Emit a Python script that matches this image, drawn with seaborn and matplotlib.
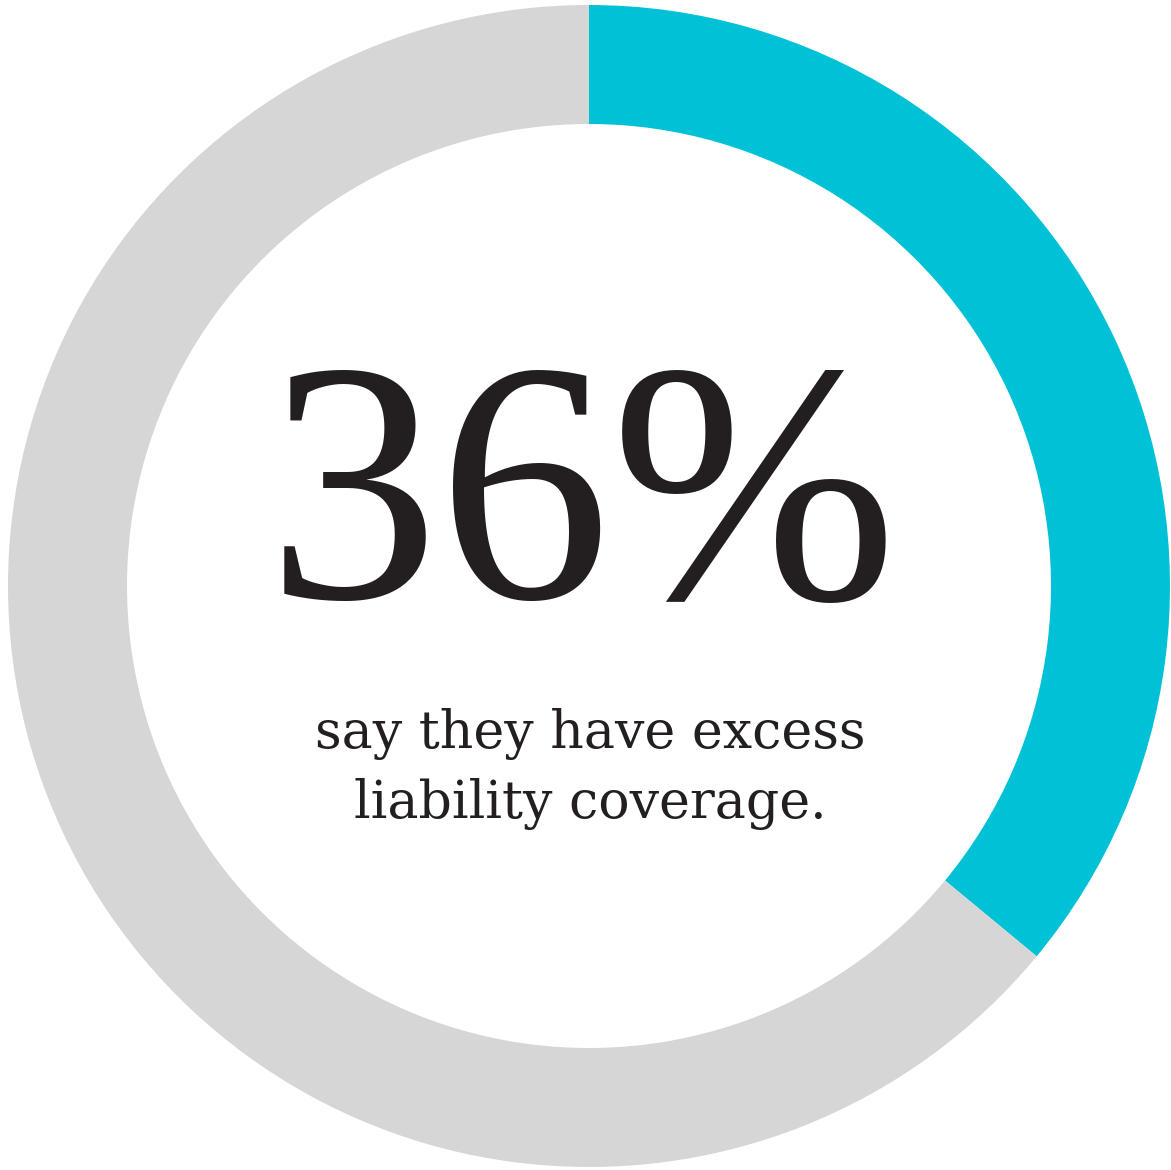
import matplotlib
matplotlib.use("Agg")
import matplotlib.pyplot as plt
import seaborn as sns

sns.set_theme(style="white")
plt.rcParams['font.family'] = ['Liberation Serif', 'DejaVu Serif']

categories = ["Have excess liability coverage", "Do not"]
values = [36, 64]
colors = ["#00C1D5", "#D6D6D6"]
headline = "36%"
subtitle_lines = ["say they have excess", "liability coverage."]

W, H = 1171, 1170
fig = plt.figure(figsize=(W / 100, H / 100), dpi=100)
ax = fig.add_axes([0, 0, 1, 1])
ax.set_xlim(0, W)
ax.set_ylim(0, H)
ax.set_aspect("equal")
ax.axis("off")

cx, cy = 589, H - 586
r_out, r_in = 581, 462
ax.pie(values, colors=colors, startangle=90, counterclock=False,
       radius=r_out, center=(cx, cy),
       wedgeprops=dict(width=r_out - r_in, linewidth=0))
ax.set_xlim(0, W)
ax.set_ylim(0, H)
ax.set_aspect("equal")

ax.text(582, H - 598, headline, ha="center", va="baseline",
        fontsize=248, color="#231F20")
sub_font = ['DejaVu Serif']
ax.text(590, H - 748, subtitle_lines[0], ha="center", va="baseline",
        fontsize=37.5, color="#231F20", family=sub_font)
ax.text(590, H - 818, subtitle_lines[1], ha="center", va="baseline",
        fontsize=37.5, color="#231F20", family=sub_font)

fig.savefig("out.png", dpi=100, facecolor="white")
